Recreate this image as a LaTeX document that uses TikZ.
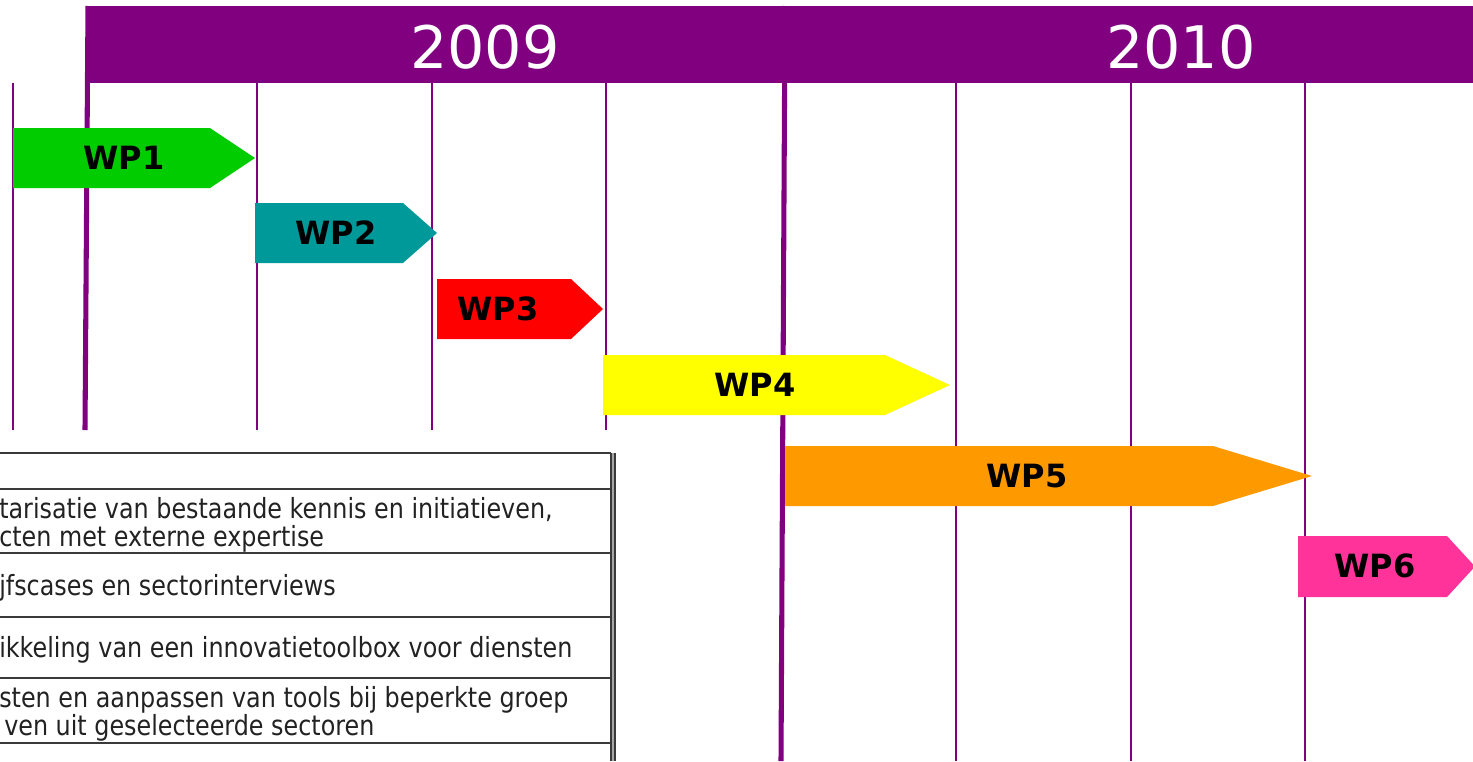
\documentclass[tikz,border=0pt]{standalone}
\usepackage{fontspec}
\setmainfont{DejaVu Sans}
\newfontfamily\tabfont[FakeStretch=0.86]{DejaVu Sans}
\definecolor{barpurple}{HTML}{800080}
\definecolor{wpgreen}{HTML}{00CC00}
\definecolor{wpteal}{HTML}{009999}
\definecolor{wpred}{HTML}{FF0000}
\definecolor{wpyellow}{HTML}{FFFF00}
\definecolor{wporange}{HTML}{FF9900}
\definecolor{wppink}{HTML}{FF3399}
\definecolor{tabline}{HTML}{3A3A3A}
\definecolor{tabtext}{HTML}{222222}
\tikzset{
  thinline/.style={draw=barpurple, line width=1.5pt},
  thickline/.style={draw=barpurple, line width=3.8pt},
  yearlabel/.style={text=white, font=\fontsize{44}{50}\selectfont, inner sep=0pt},
  wplabel/.style={text=black, font=\bfseries\fontsize{24}{28}\selectfont, inner sep=0pt},
  rowline/.style={draw=tabline, line width=1.3pt},
  rowtext/.style={text=tabtext, font=\tabfont\fontsize{20.8}{24}\selectfont, inner sep=0pt, anchor=base west},
}
\newcommand{\wparrow}[6]{% color, x0, xb, xt, ytop, ybot
  \fill[#1] (#2,#5) -- (#3,#5) -- (#4,{(#5+#6)/2}) -- (#3,#6) -- (#2,#6) -- cycle;
}
\begin{document}
\begin{tikzpicture}[x=0.75pt,y=-0.75pt]
\useasboundingbox (0,0) rectangle (1473,761);
\begin{scope}
\clip (0,0) rectangle (1473,761);
% header bar
\fill[barpurple] (87,6) rectangle (1473,83);
\node[yearlabel] (y2009) at (485,47) {2009};
\node[yearlabel] (y2010) at (1181,47) {2010};
% thin grid lines
\foreach \x in {13,257,432,606} { \draw[thinline] (\x,83) -- (\x,430); }
\foreach \x in {956,1131,1305} { \draw[thinline] (\x,83) -- (\x,761); }
% thick lines
\draw[thickline] (88,6) -- (85,430);
\draw[thickline] (785,6) -- (781,761);
% work package arrows
\wparrow{wpgreen}{13}{210}{255}{128}{188}
\node[wplabel] (wp1) at (124,158) {WP1};
\wparrow{wpteal}{255}{403}{437}{203}{263}
\node[wplabel] (wp2) at (336,233) {WP2};
\wparrow{wpred}{437}{571}{603}{279}{339}
\node[wplabel] (wp3) at (498,309) {WP3};
\wparrow{wpyellow}{603}{885}{950}{355}{415}
\node[wplabel] (wp4) at (755,385) {WP4};
\wparrow{wporange}{785}{1213}{1312}{446}{506}
\node[wplabel] (wp5) at (1027,476) {WP5};
\wparrow{wppink}{1298}{1447}{1475}{536}{597}
\node[wplabel] (wp6) at (1375,566) {WP6};
% table
\foreach \y in {453,489,553,617,678,743} { \draw[rowline] (0,\y) -- (611,\y); }
\fill[black!35] (611,453) rectangle (615,761);
\draw[draw=tabline, line width=0.9pt] (611,453) -- (611,761);
\draw[draw=tabline, line width=0.9pt] (615,453) -- (615,761);
\node[rowtext] (t1a) at (-1,518) {tarisatie van bestaande kennis en initiatieven,};
\node[rowtext] (t1b) at (-1,546) {cten met externe expertise};
\node[rowtext] (t2) at (-1,595) {jfscases en sectorinterviews};
\node[rowtext] (t3) at (-1,657) {ikkeling van een innovatietoolbox voor diensten};
\node[rowtext] (t4a) at (-1,707) {sten en aanpassen van tools bij beperkte groep};
\node[rowtext] (t4b) at (4,735) {ven uit geselecteerde sectoren};
\end{scope}
\end{tikzpicture}
\end{document}
